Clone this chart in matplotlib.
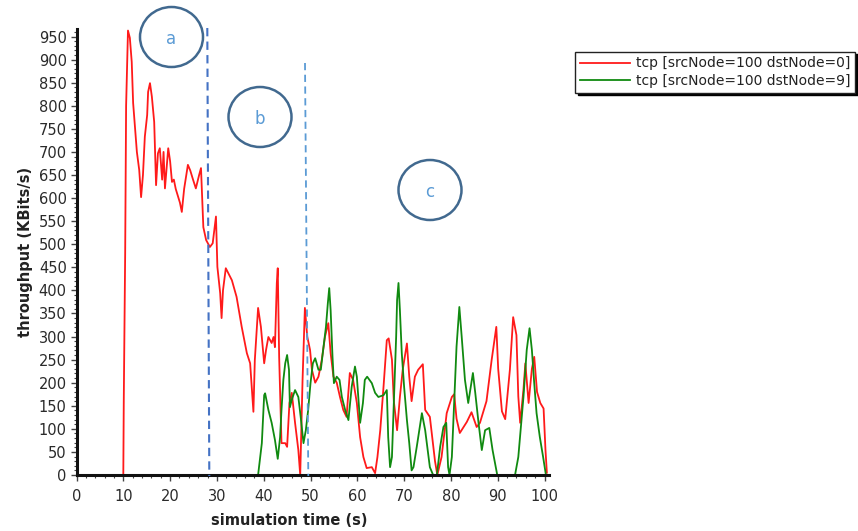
import numpy as np
import matplotlib
matplotlib.use("Agg")
import matplotlib.pyplot as plt
from matplotlib.patches import Ellipse
from matplotlib.lines import Line2D
from matplotlib.ticker import MultipleLocator

OUTPUT_PLOT = "out.png"

# throughput series (time in s, KBits/s)
red_t = [0, 10.0, 10.1, 10.4, 10.6, 11.0, 11.4, 11.8, 12.1, 12.5, 12.9, 13.4, 13.8, 14.2,
         14.6, 15.1, 15.3, 15.7, 16.1, 16.6, 16.8, 17.0, 17.4, 17.8, 18.3, 18.6, 18.9,
         19.6, 20.0, 20.4, 20.8, 21.2, 22.1, 22.5, 23.0, 23.8, 24.3, 24.9, 25.5, 26.2,
         26.6, 27.1, 27.7, 28.5, 29.1, 29.8, 30.1, 30.7, 31.0, 31.3, 31.9, 33.2, 34.2,
         35.3, 36.4, 37.1, 37.8, 38.1, 38.8, 39.4, 40.1, 40.5, 41.0, 41.7, 42.1, 42.4,
         42.8, 43.0, 43.3, 43.8, 44.6, 45.0, 45.5, 46.0, 46.7, 47.4, 47.8, 48.3, 48.8,
         49.3, 49.9, 50.3, 51.0, 51.7, 52.4, 53.1, 53.8, 54.3, 54.9, 55.6, 56.3, 57.0,
         57.7, 58.4, 59.1, 59.9, 60.6, 61.3, 62.0, 63.1, 63.8, 64.3, 64.9, 65.6, 66.3,
         66.7, 67.4, 67.8, 68.5, 69.1, 69.7, 70.6, 71.1, 71.6, 72.3, 73.0, 74.0, 74.5,
         75.5, 76.6, 77.1, 78.0, 79.1, 80.2, 80.7, 81.2, 81.9, 83.4, 84.4, 85.5, 86.2,
         87.6, 88.7, 89.7, 90.1, 90.9, 91.6, 92.6, 93.3, 94.0, 94.4, 94.8, 95.5, 95.9,
         96.6, 97.3, 97.8, 98.4, 99.1, 99.8, 100.2, 100.5]
red_v = [0, 0, 160, 481, 800, 963, 947, 895, 806, 752, 700, 661, 602, 650,
         733, 780, 830, 849, 820, 765, 700, 628, 697, 708, 640, 700, 621,
         708, 680, 635, 640, 620, 590, 570, 620, 672, 660, 640, 621, 650,
         665, 537, 509, 494, 502, 560, 451, 394, 340, 400, 448, 422, 386,
         321, 264, 242, 137, 249, 362, 321, 242, 271, 299, 286, 299, 277,
         416, 448, 256, 69, 69, 61, 156, 178, 113, 54, 0, 206, 362,
         300, 271, 228, 200, 213, 249, 300, 329, 264, 213, 200, 169, 141,
         126, 221, 206, 156, 82, 39, 15, 17, 4, 39, 97, 191, 292,
         296, 250, 160, 97, 169, 228, 285, 213, 160, 213, 228, 240, 141,
         126, 30, 0, 39, 134, 169, 175, 122, 91, 115, 136, 104, 113,
         160, 249, 321, 230, 138, 121, 228, 342, 303, 170, 113, 185, 242,
         156, 230, 256, 180, 156, 144, 55, 5]

green_t = [0, 38.8, 39.6, 40.1, 40.3, 41.0, 41.7, 42.4, 43.0, 43.5, 43.8, 44.2, 44.6,
           45.0, 45.4, 45.6, 46.0, 46.7, 47.4, 47.9, 48.5, 49.0, 49.5, 50.0, 50.5,
           51.0, 51.7, 52.2, 52.7, 53.3, 53.7, 54.0, 54.3, 54.7, 55.0, 55.6, 56.2,
           56.7, 57.4, 58.1, 58.8, 59.5, 59.9, 60.6, 61.2, 61.6, 62.1, 63.1, 63.8,
           64.5, 65.6, 66.3, 66.6, 67.0, 67.4, 67.8, 68.3, 68.5, 68.8, 69.1, 69.5,
           70.0, 70.6, 71.1, 71.6, 72.0, 72.7, 73.8, 74.5, 75.5, 76.2, 77.0, 77.7,
           78.4, 79.0, 79.4, 79.7, 80.2, 80.9, 81.2, 81.8, 82.3, 83.0, 83.7, 84.7,
           85.2, 85.9, 86.6, 87.3, 88.2, 88.9, 89.9, 93.7, 94.4, 95.5, 96.2, 96.8,
           97.3, 97.8, 98.3, 99.0, 99.7, 100.3]
green_v = [0, 0, 69, 173, 177, 141, 113, 76, 35, 82, 141, 206, 242,
           260, 228, 147, 163, 184, 169, 126, 69, 97, 141, 199, 242,
           253, 228, 228, 271, 321, 372, 405, 357, 256, 199, 213, 206,
           169, 141, 119, 191, 235, 213, 113, 156, 206, 213, 199, 178,
           169, 173, 184, 82, 17, 39, 156, 300, 379, 416, 357, 264,
           191, 119, 69, 10, 17, 61, 134, 97, 17, 0, 0, 61,
           104, 113, 17, 0, 39, 206, 278, 364, 300, 206, 156, 221,
           178, 113, 54, 97, 102, 54, 0, 0, 39, 169, 271, 318,
           271, 199, 134, 82, 39, 0]

series_labels = ["tcp [srcNode=100 dstNode=0]", "tcp [srcNode=100 dstNode=9]"]
x_ticks = list(range(0, 101, 10))
y_ticks = list(range(0, 951, 50))

# phase annotations: (label, centre x, centre y) in figure pixels
phases = [("a", 171.5, 37), ("b", 260, 117), ("c", 430, 190)]

W, H = 858, 531
fig = plt.figure(figsize=(W / 100, H / 100), dpi=100)
ax = fig.add_axes([76.5 / W, 56 / H, 472.7 / W, 446.3 / H])

ax.plot(red_t, red_v, color="#ff1a1a", lw=1.3, label=series_labels[0])
ax.plot(green_t, green_v, color="#108a10", lw=1.3, label=series_labels[1])

ax.set_xlim(0, 101)
ax.set_ylim(0, 967)
ax.set_xticks(x_ticks)
ax.set_yticks(y_ticks)
ax.xaxis.set_minor_locator(MultipleLocator(2))
ax.yaxis.set_minor_locator(MultipleLocator(10))

for side in ("top", "right"):
    ax.spines[side].set_visible(False)
for side in ("left", "bottom"):
    ax.spines[side].set_linewidth(2.2)
    ax.spines[side].set_color("#111111")

ax.tick_params(which="major", direction="out", length=4, width=1, color="#444444",
               labelsize=10.5, labelcolor="#2a2a2a")
ax.tick_params(axis="x", which="major", pad=6)
ax.tick_params(axis="y", which="major", pad=3)
ax.tick_params(which="minor", direction="out", length=2.5, width=0.8, color="#444444")

ax.set_xlabel("simulation time (s)", fontsize=10.5, fontweight="bold", color="#222222")
ax.set_ylabel("throughput (KBits/s)", fontsize=10.5, fontweight="bold", color="#222222")
ax.xaxis.set_label_coords(0.45, -0.085)
ax.yaxis.set_label_coords(-0.092, 0.5)

leg = fig.legend(loc="upper left", bbox_to_anchor=(575 / W, 1 - 51.5 / H),
                 frameon=True, fancybox=False, shadow={"color": "black", "alpha": 1},
                 fontsize=10, handlelength=3.6, handletextpad=0.45,
                 borderpad=0.35, labelspacing=0.25, borderaxespad=0)
leg.get_frame().set_edgecolor("#222222")
leg.get_frame().set_linewidth(1)
for txt in leg.get_texts():
    txt.set_color("#222222")

# phase boundary markers (figure pixels)
fig.add_artist(Line2D([207.3 / W, 209.3 / W], [1 - 28 / H, 1 - 476 / H],
                      transform=fig.transFigure, color="#4472c4", lw=1.5,
                      dashes=(4, 2.5)))
fig.add_artist(Line2D([305 / W, 308.3 / W], [1 - 63 / H, 1 - 476 / H],
                      transform=fig.transFigure, color="#5b9bd5", lw=1.3,
                      dashes=(4, 2.5)))

for lab, cx, cy in phases:
    fig.add_artist(Ellipse((cx / W, 1 - cy / H), 63 / W, 60 / H,
                           transform=fig.transFigure, fill=False,
                           edgecolor="#41698f", lw=1.8))
    fig.text(cx / W, 1 - (cy + 2) / H, lab, ha="center", va="center",
             fontsize=12, color="#5b9bd5")

fig.savefig(OUTPUT_PLOT, dpi=100)
plt.close(fig)
